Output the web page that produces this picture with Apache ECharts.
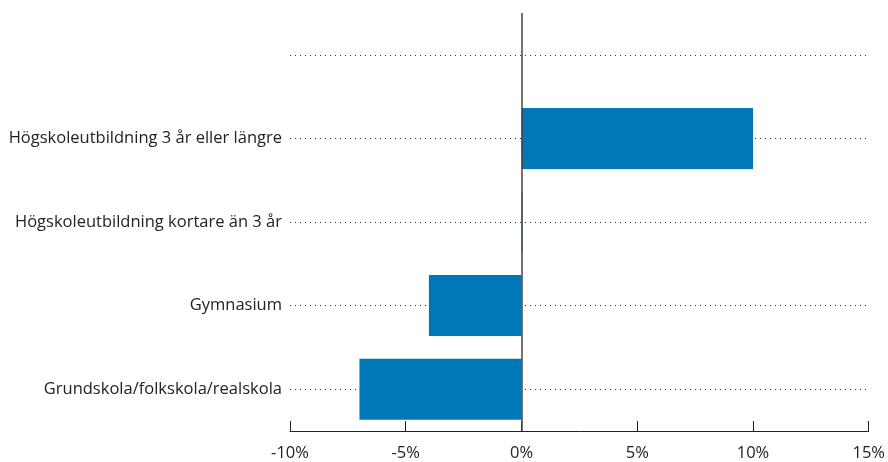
<!DOCTYPE html>
<html><head><meta charset="utf-8">
<script src="https://cdn.jsdelivr.net/npm/echarts@6/dist/echarts.min.js"></script>
<style>html,body{margin:0;padding:0;background:#fff}#c{width:888px;height:462px}</style>
</head><body><div id="c"></div>
<script>
const categories = ['Grundskola/folkskola/realskola','Gymnasium','Högskoleutbildning kortare än 3 år','Högskoleutbildning 3 år eller längre',''];
const values = [-7, -4, 0.04, 10, null];
const xTicks = [-10, -5, 0, 5, 10, 15];

const chart = echarts.init(document.getElementById('c'));
const FONT = 'Open Sans';
chart.setOption({
  animation: false,
  grid: {left: 290, right: 17, top: 13, bottom: 30, containLabel: false},
  xAxis: {
    type: 'value', min: xTicks[0], max: xTicks[xTicks.length-1], interval: 5,
    axisLine: {show: true, onZero: false, lineStyle: {color: '#222', width: 1}},
    axisTick: {show: true, inside: true, length: 10, lineStyle: {color: '#222'}},
    splitLine: {show: false},
    axisLabel: {formatter: v => v + '%', color: '#222', fontFamily: FONT, fontSize: 16.5, margin: 14}
  },
  yAxis: {
    type: 'category', data: categories,
    axisLine: {show: false, onZero: false},
    axisTick: {show: false},
    splitLine: {show: false},
    axisLabel: {color: '#222', fontFamily: FONT, fontSize: 16.5, margin: 8}
  },
  series: [{
    type: 'bar', data: values, barCategoryGap: '27%', z: 2,
    itemStyle: {color: '#0077b6'},
    markLine: {
      silent: true, symbol: 'none', z: 1,
      label: {show: false},
      data: categories.map((c, i) => ({yAxis: i, lineStyle: {type: [1, 4], color: '#333', width: 1}}))
    }
  }, {
    type: 'line', data: [], z: 6,
    markLine: {
      silent: true, symbol: 'none', z: 6,
      label: {show: false},
      data: [{xAxis: 0, lineStyle: {type: 'solid', color: '#444', width: 1.5}}]
    }
  }]
});
</script></body></html>
